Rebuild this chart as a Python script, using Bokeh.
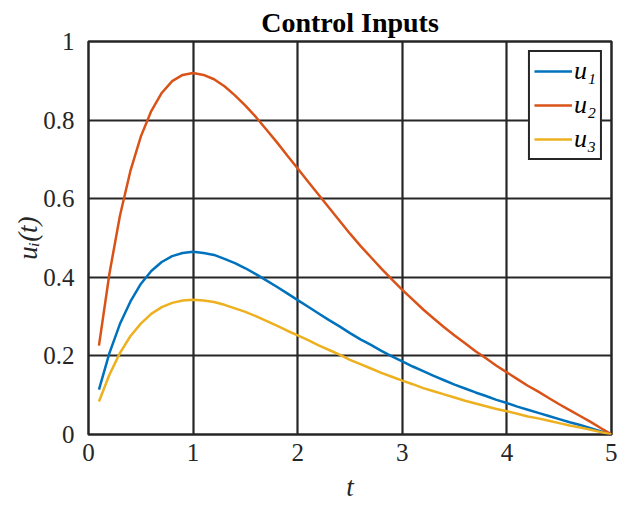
from bokeh.plotting import figure
from bokeh.embed import file_html
from bokeh.resources import INLINE
from bokeh.models import FixedTicker, CustomJSTickFormatter, Range1d, Legend, LegendItem

t = [round(0.1 * k, 1) for k in range(1, 51)]

u2 = [0.226, 0.409, 0.556, 0.670, 0.758, 0.823, 0.869, 0.899, 0.915, 0.920,
      0.915, 0.904, 0.886, 0.863, 0.837, 0.808, 0.776, 0.744, 0.710, 0.677,
      0.643, 0.610, 0.577, 0.544, 0.511, 0.480, 0.451, 0.422, 0.395, 0.368,
      0.343, 0.318, 0.295, 0.273, 0.252, 0.232, 0.212, 0.194, 0.175, 0.158,
      0.141, 0.124, 0.109, 0.093, 0.077, 0.062, 0.047, 0.032, 0.016, 0.000]

u1 = [0.114, 0.207, 0.281, 0.338, 0.383, 0.416, 0.439, 0.454, 0.462, 0.465,
      0.462, 0.457, 0.447, 0.436, 0.423, 0.408, 0.392, 0.376, 0.359, 0.342,
      0.325, 0.308, 0.291, 0.275, 0.258, 0.242, 0.228, 0.213, 0.199, 0.186,
      0.173, 0.161, 0.149, 0.138, 0.127, 0.117, 0.107, 0.098, 0.088, 0.080,
      0.071, 0.063, 0.055, 0.047, 0.039, 0.031, 0.024, 0.016, 0.008, 0.000]

u3 = [0.084, 0.152, 0.207, 0.250, 0.282, 0.307, 0.324, 0.335, 0.341, 0.343,
      0.341, 0.337, 0.330, 0.321, 0.312, 0.301, 0.289, 0.277, 0.264, 0.252,
      0.240, 0.227, 0.215, 0.203, 0.190, 0.179, 0.168, 0.157, 0.147, 0.137,
      0.128, 0.118, 0.110, 0.102, 0.094, 0.086, 0.079, 0.072, 0.065, 0.059,
      0.053, 0.046, 0.041, 0.035, 0.029, 0.023, 0.018, 0.012, 0.006, 0.000]

x_ticks = [0, 1, 2, 3, 4, 5]
y_ticks = [0, 0.2, 0.4, 0.6, 0.8, 1]
labels = ["u\u2081", "u\u2082", "u\u2083"]
colors = ["#0072BD", "#D95319", "#EDB120"]

SERIF = "Liberation Serif"
DARK = "#262626"

p = figure(frame_width=523, frame_height=393, output_backend="svg", toolbar_location=None,
           x_range=Range1d(0, 5), y_range=Range1d(0, 1),
           min_border_left=88, min_border_top=41, min_border_right=6, min_border_bottom=64)

p.title.text = "Control Inputs"
p.title.text_font = SERIF
p.title.text_font_style = "bold"
p.title.text_font_size = "28px"
p.title.align = "center"
p.title.text_color = "#000000"
p.title.standoff = 8

p.outline_line_color = DARK
p.outline_line_width = 2.5
p.outline_line_alpha = 1

for ax in (p.xaxis[0], p.yaxis[0]):
    ax.axis_line_color = None
    ax.major_tick_line_color = None
    ax.minor_tick_line_color = None
    ax.major_label_text_font = SERIF
    ax.major_label_text_font_size = "25px"
    ax.major_label_text_color = DARK
    ax.axis_label_text_font = SERIF
    ax.axis_label_text_font_size = "27px"
    ax.axis_label_text_font_style = "italic"
    ax.axis_label_text_color = DARK

p.xaxis.ticker = FixedTicker(ticks=x_ticks)
p.yaxis.ticker = FixedTicker(ticks=y_ticks)
fmt = CustomJSTickFormatter(code="return String(Math.round(tick*10)/10);")
p.xaxis.formatter = fmt
p.yaxis.formatter = fmt
p.xaxis.major_label_standoff = 3
p.yaxis.major_label_standoff = 8
p.xaxis.axis_label = "t"
p.yaxis.axis_label = "u\u1d62(t)"
p.xaxis.axis_label_standoff = 8
p.yaxis.axis_label_standoff = -3

p.xgrid.grid_line_color = DARK
p.ygrid.grid_line_color = DARK
p.xgrid.grid_line_width = 2.2
p.ygrid.grid_line_width = 2.2
p.xgrid.grid_line_alpha = 1
p.ygrid.grid_line_alpha = 1

items = []
for ys, c, lab in zip([u1, u2, u3], colors, labels):
    r = p.line(t, ys, line_color=c, line_width=2.5)
    items.append(LegendItem(label=lab, renderers=[r]))

leg = Legend(items=items, location="top_right")
leg.label_text_font = SERIF
leg.label_text_font_style = "italic"
leg.label_text_font_size = "26px"
leg.label_text_color = "#000000"
leg.border_line_color = DARK
leg.border_line_width = 2.5
leg.border_line_alpha = 1
leg.background_fill_color = "white"
leg.background_fill_alpha = 1
leg.glyph_width = 38
leg.glyph_height = 28
leg.label_height = 28
leg.spacing = 4
leg.padding = 4
leg.margin = 9
leg.label_standoff = 2
p.add_layout(leg)

open("out.html", "w").write(file_html(p, INLINE))
